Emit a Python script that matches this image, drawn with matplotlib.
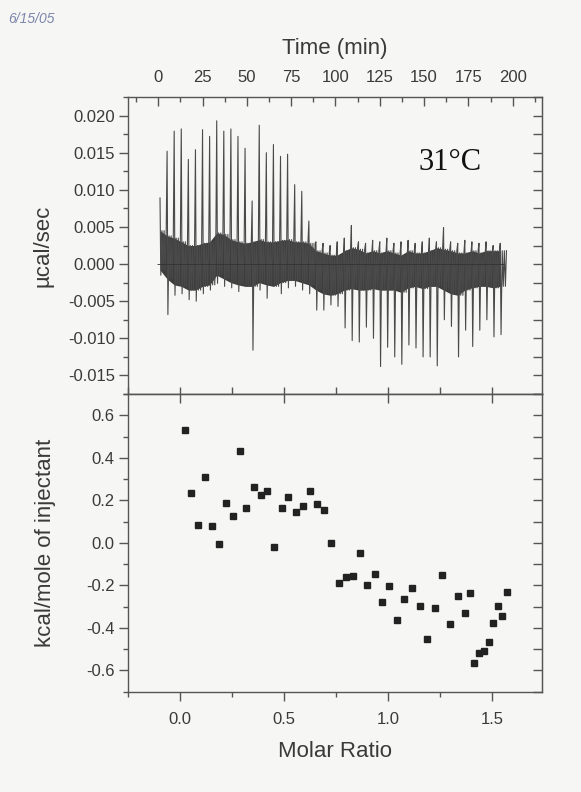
import matplotlib
matplotlib.use("Agg")
import matplotlib.pyplot as plt
from matplotlib.ticker import MultipleLocator, NullFormatter, FormatStrFormatter

# ---------------- data ----------------
# raw ITC trace: injection times (min)
inj_time = [1, 5, 9, 13, 17, 21, 25, 29, 33, 37, 41, 45, 49, 53, 57, 61, 65,
            69, 73, 77, 81, 85, 89, 93, 97, 101, 105, 109, 113, 117, 121, 125,
            129, 133, 137, 141, 145, 149, 153, 157, 161, 165, 169, 173, 177,
            181, 185, 189, 193]
# spike maximum / minimum of each injection (ucal/sec)
spike_max = [0.0089, 0.0152, 0.0179, 0.0182, 0.0141, 0.0154, 0.0181, 0.0172,
             0.0193, 0.0179, 0.0182, 0.0172, 0.0156, 0.0085, 0.0187, 0.0150,
             0.0161, 0.0145, 0.0148, 0.0107, 0.0098, 0.0058, 0.0030, 0.0028,
             0.0025, 0.0030, 0.0035, 0.0052, 0.0030, 0.0028, 0.0032, 0.0030,
             0.0035, 0.0028, 0.0030, 0.0032, 0.0028, 0.0030, 0.0035, 0.0030,
             0.0049, 0.0030, 0.0028, 0.0032, 0.0030, 0.0028, 0.0030, 0.0025,
             0.0028]
spike_min = [-0.0015, -0.0068, -0.0042, -0.0040, -0.0048, -0.0050, -0.0040,
             -0.0035, -0.0026, -0.0030, -0.0032, -0.0037, -0.0030, -0.0116,
             -0.0035, -0.0046, -0.0030, -0.0040, -0.0032, -0.0030, -0.0035,
             -0.0040, -0.0062, -0.0062, -0.0055, -0.0057, -0.0086, -0.0103,
             -0.0105, -0.0085, -0.0100, -0.0138, -0.0112, -0.0125, -0.0135,
             -0.0109, -0.0113, -0.0125, -0.0125, -0.0137, -0.0075, -0.0084,
             -0.0125, -0.0089, -0.0111, -0.0089, -0.0075, -0.0098, -0.0095]
# noise band of the trace around each injection (ucal/sec)
band_hi = [0.0045, 0.0038, 0.0035, 0.0030, 0.0025, 0.0025, 0.0028, 0.0030,
           0.0042, 0.0040, 0.0033, 0.0030, 0.0028, 0.0030, 0.0033, 0.0030,
           0.0030, 0.0032, 0.0033, 0.0030, 0.0030, 0.0028, 0.0018, 0.0015,
           0.0012, 0.0012, 0.0018, 0.0022, 0.0020, 0.0015, 0.0018, 0.0015,
           0.0018, 0.0015, 0.0012, 0.0018, 0.0015, 0.0015, 0.0018, 0.0022,
           0.0020, 0.0018, 0.0015, 0.0015, 0.0018, 0.0015, 0.0018, 0.0018,
           0.0018]
band_lo = [-0.0008, -0.0020, -0.0028, -0.0030, -0.0035, -0.0035, -0.0030,
           -0.0028, -0.0015, -0.0020, -0.0025, -0.0028, -0.0030, -0.0030,
           -0.0025, -0.0028, -0.0030, -0.0025, -0.0022, -0.0022, -0.0025,
           -0.0028, -0.0035, -0.0040, -0.0042, -0.0040, -0.0035, -0.0033,
           -0.0035, -0.0035, -0.0033, -0.0035, -0.0035, -0.0035, -0.0038,
           -0.0032, -0.0030, -0.0033, -0.0030, -0.0030, -0.0035, -0.0040,
           -0.0042, -0.0035, -0.0032, -0.0030, -0.0030, -0.0032, -0.0030]

# integrated heats
molar_ratio = [0.021, 0.053, 0.087, 0.120, 0.152, 0.186, 0.220, 0.252, 0.286,
               0.319, 0.353, 0.387, 0.419, 0.452, 0.488, 0.521, 0.555, 0.589,
               0.624, 0.658, 0.693, 0.727, 0.762, 0.796, 0.831, 0.866, 0.901,
               0.937, 0.972, 1.007, 1.043, 1.078, 1.116, 1.153, 1.189, 1.224,
               1.261, 1.298, 1.335, 1.372, 1.394, 1.416, 1.439, 1.461, 1.484,
               1.505, 1.529, 1.551, 1.572]
kcal_per_mole = [0.532, 0.234, 0.084, 0.312, 0.081, -0.006, 0.186, 0.128,
                 0.432, 0.166, 0.262, 0.226, 0.245, -0.020, 0.163, 0.216,
                 0.145, 0.174, 0.243, 0.182, 0.156, -0.002, -0.188, -0.160,
                 -0.155, -0.048, -0.196, -0.147, -0.276, -0.201, -0.361,
                 -0.262, -0.213, -0.298, -0.454, -0.306, -0.149, -0.383,
                 -0.251, -0.330, -0.235, -0.564, -0.518, -0.507, -0.465,
                 -0.378, -0.298, -0.344, -0.232]

time_ticks = [0, 25, 50, 75, 100, 125, 150, 175, 200]

# ---------------- figure ----------------
plt.rcParams['font.family'] = ['Liberation Sans', 'DejaVu Sans']
TXT = '#3a3a3a'
BG = '#f6f6f5'
SP = '#555555'

fig = plt.figure(figsize=(5.81, 7.92), dpi=100, facecolor=BG)
L, W = 0.2208, 0.7116
ax1 = fig.add_axes([L, 0.5025, W, 0.3750], facecolor=BG)
ax2 = fig.add_axes([L, 0.1266, W, 0.3759], facecolor=BG)

for ax in (ax1, ax2):
    for s in ax.spines.values():
        s.set_color(SP)
        s.set_linewidth(1.0)

# ---- top panel: raw data drawn as one trace ----
# each injection: spike up, spike down, then the trace swings
# between the read band limits until the next injection
tr_x, tr_y = [], []
for t, smax, smin, hi, lo in zip(inj_time, spike_max, spike_min, band_hi, band_lo):
    tr_x += [t, t + 0.45, t + 1.1, t + 1.7, t + 2.3, t + 2.9, t + 3.5]
    tr_y += [smax, smin, hi, lo, hi, lo, hi]
ax1.fill_between(inj_time, band_lo, band_hi, color='#3c3c3c', lw=0)
ax1.plot(tr_x, tr_y, color='#4a4a4a', lw=0.8)
ax1.hlines(0.0, inj_time[0] - 1.5, inj_time[-1] + 2.0, color='#333333', lw=0.6)
ax1.set_xlim(-16.9, 216.4)
ax1.set_ylim(-0.0175, 0.0225)

ax1.xaxis.set_ticks_position('top')
ax1.xaxis.set_label_position('top')
ax1.set_xticks(time_ticks)
ax1.xaxis.set_minor_locator(MultipleLocator(12.5))
ax1.tick_params(axis='x', which='major', direction='in', length=6.5,
                width=1.0, colors=SP, labelcolor=TXT, labelsize=12, pad=9)
ax1.tick_params(axis='x', which='minor', direction='in', length=3.3,
                width=1.0, colors=SP)
ax1.tick_params(axis='x', bottom=False)
ax1.set_xlabel('Time (min)', fontsize=16, color=TXT, labelpad=11)

ax1.yaxis.set_major_locator(MultipleLocator(0.005))
ax1.yaxis.set_minor_locator(MultipleLocator(0.0025))
ax1.yaxis.set_major_formatter(FormatStrFormatter('%.3f'))
ax1.tick_params(axis='y', which='major', direction='out', length=6.7,
                width=1.0, colors=SP, labelcolor=TXT, labelsize=12, pad=3)
ax1.tick_params(axis='y', which='minor', direction='out', length=3.3,
                width=1.0, colors=SP)
ax1.set_ylabel('\u00b5cal/sec', fontsize=16, color=TXT, labelpad=10)
r1 = ax1.secondary_yaxis('right')
r1.yaxis.set_major_locator(MultipleLocator(0.0025))
r1.yaxis.set_major_formatter(NullFormatter())
r1.tick_params(direction='in', length=6.5, width=1.0, colors=SP)
r1.spines['right'].set_color(SP)

ax1.text(146.6, 0.0127, '31\u00b0C', family=['Liberation Serif'], fontsize=22,
         color='#111111', ha='left', va='baseline')

# ---- bottom panel: integrated heats ----
ax2.plot(molar_ratio, kcal_per_mole, ls='none', marker='s', ms=4.3,
         color='#222222', mec='#222222')
ax2.set_xlim(-0.25, 1.74)
ax2.set_ylim(-0.7, 0.7)
ax2.xaxis.set_major_locator(MultipleLocator(0.5))
ax2.xaxis.set_minor_locator(MultipleLocator(0.25))
ax2.xaxis.set_major_formatter(FormatStrFormatter('%.1f'))
ax2.tick_params(axis='x', which='major', direction='out', length=6.7,
                width=1.0, colors=SP, labelcolor=TXT, labelsize=12, pad=8)
ax2.tick_params(axis='x', which='minor', direction='out', length=3.5,
                width=1.0, colors=SP)
ax2.set_xlabel('Molar Ratio', fontsize=16, color=TXT, labelpad=10)

ax2.yaxis.set_major_locator(MultipleLocator(0.2))
ax2.yaxis.set_minor_locator(MultipleLocator(0.1))
ax2.yaxis.set_major_formatter(FormatStrFormatter('%.1f'))
ax2.tick_params(axis='y', which='major', direction='out', length=6.7,
                width=1.0, colors=SP, labelcolor=TXT, labelsize=12, pad=3)
ax2.tick_params(axis='y', which='minor', direction='out', length=3.3,
                width=1.0, colors=SP)
ax2.set_ylabel('kcal/mole of injectant', fontsize=16, color=TXT, labelpad=22)

r2 = ax2.secondary_yaxis('right')
r2.yaxis.set_major_locator(MultipleLocator(0.1))
r2.yaxis.set_major_formatter(NullFormatter())
r2.tick_params(direction='in', length=6.5, width=1.0, colors=SP)
r2.spines['right'].set_color(SP)

t2 = ax2.secondary_xaxis('top')
t2.xaxis.set_major_locator(MultipleLocator(0.5))
t2.xaxis.set_major_formatter(NullFormatter())
t2.tick_params(direction='in', length=6.5, width=1.0, colors=SP)
t2.spines['top'].set_color(SP)
t3 = ax2.secondary_xaxis('top')
t3.xaxis.set_major_locator(MultipleLocator(0.25))
t3.xaxis.set_major_formatter(NullFormatter())
t3.tick_params(direction='out', length=5, width=1.0, colors=SP)
t3.spines['top'].set_color(SP)

fig.text(0.014, 0.985, '6/15/05', fontsize=10, color='#7c86aa', style='italic',
         ha='left', va='top')

fig.savefig('out.png', dpi=100, facecolor=BG)
